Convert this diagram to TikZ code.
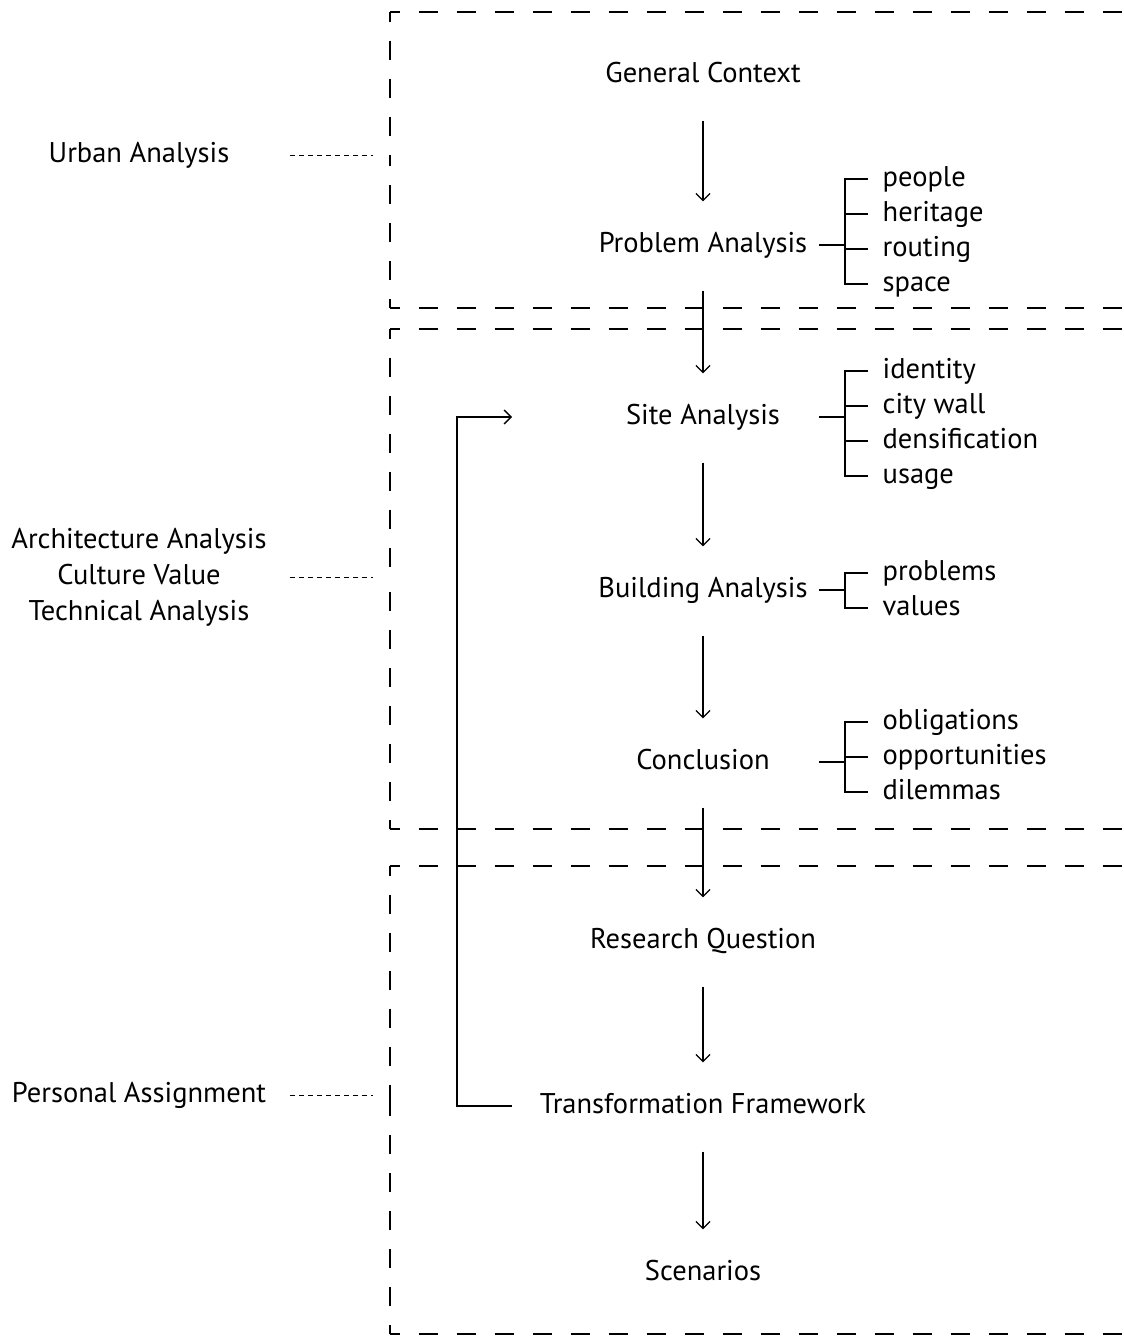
\documentclass[tikz,border=0pt]{standalone}
\usepackage{fontspec}
\setmainfont{PT Sans}
\usetikzlibrary{arrows.meta,calc}

\tikzset{
  zone/.style={dash pattern=on 19pt off 19pt, dash phase=9.5pt},
  tie/.style={line width=1pt, dash pattern=on 5pt off 4pt},
  flow/.style={-{Straight Barb[length=7pt,width=14pt]}},
  next/.style={flow, shorten <=38pt, shorten >=36pt},
  stage/.style={anchor=base, inner sep=0pt, text height=14pt, text depth=0pt},
  item/.style={anchor=base west, inner sep=0pt, text height=14pt, text depth=0pt},
}

\begin{document}
\begin{tikzpicture}[x=1pt, y=-1pt, line width=1.3pt, font=\fontsize{28.5}{36}\selectfont]
\useasboundingbox (0,0) rectangle (1124,1336);
\coordinate (root) at (819,0);
\coordinate (spine) at (845,0);
\coordinate (loop) at (457,0);
\coordinate (back) at (512,0);
\coordinate (tiestart) at (290,0);
\coordinate (tieend) at (373,0);

% dashed zones, open to the right
\draw[zone] (390,12) -- (1140,12) (390,308) -- (1140,308) (390,12) -- (390,160) (390,308) -- (390,160);
\draw[zone] (390,329) -- (1140,329) (390,829) -- (1140,829) (390,329) -- (390,579) (390,829) -- (390,579);
\draw[zone] (390,866) -- (1140,866) (390,1334) -- (1140,1334) (390,866) -- (390,1100) (390,1334) -- (390,1100);

% phases on the left
\node[stage] (ua) at (139,162) {Urban Analysis};
\node[align=center, inner sep=0pt] (aa) at (139,577) {Architecture Analysis\\Culture Value\\Technical Analysis};
\node[stage] (ps) at (139,1102) {Personal Assignment};
\draw[tie] (ua -| tiestart) -- (ua -| tieend);
\draw[tie] (aa -| tiestart) -- (aa -| tieend);
\draw[tie] (ps -| tiestart) -- (ps -| tieend);

% main steps
\node[stage] (gc) at (703,82) {General Context};
\node[stage] (pa) at (703,252) {Problem Analysis};
\node[stage] (sa) at (703,424) {Site Analysis};
\node[stage] (ba) at (703,597) {Building Analysis};
\node[stage] (co) at (703,769) {Conclusion};
\node[stage] (rq) at (703,948) {Research Question};
\node[stage] (tf) at (703,1113) {Transformation Framework};
\node[stage] (sc) at (703,1280) {Scenarios};

\draw[next] (gc.south) -- (pa.north);
\draw[next] (pa.south) -- (sa.north);
\draw[next] (sa.south) -- (ba.north);
\draw[next] (ba.south) -- (co.north);
\draw[next] (co.south) -- (rq.north);
\draw[next] (rq.south) -- (tf.north);
\draw[next] (tf.south) -- (sc.north);
\draw[flow] (tf -| back) -- (tf -| loop) -- (sa -| loop) -- (sa -| back);

% sub items
\node[item] (pa1) at (882,186) {people};
\node[item] (pa2) at (882,221) {heritage};
\node[item] (pa3) at (882,256) {routing};
\node[item] (pa4) at (882,291) {space};
\draw (pa -| root) -- (pa -| spine);
\draw ([xshift=-14pt]pa1.west) -- (pa1 -| spine) -- (pa4 -| spine) -- ([xshift=-14pt]pa4.west);
\draw (pa2 -| spine) -- ([xshift=-14pt]pa2.west) (pa3 -| spine) -- ([xshift=-14pt]pa3.west);

\node[item] (sa1) at (882,378) {identity};
\node[item] (sa2) at (882,413) {city wall};
\node[item] (sa3) at (882,448) {densification};
\node[item] (sa4) at (882,483) {usage};
\draw (sa -| root) -- (sa -| spine);
\draw ([xshift=-14pt]sa1.west) -- (sa1 -| spine) -- (sa4 -| spine) -- ([xshift=-14pt]sa4.west);
\draw (sa2 -| spine) -- ([xshift=-14pt]sa2.west) (sa3 -| spine) -- ([xshift=-14pt]sa3.west);

\node[item] (ba1) at (882,580) {problems};
\node[item] (ba2) at (882,615) {values};
\draw (ba -| root) -- (ba -| spine);
\draw ([xshift=-14pt]ba1.west) -- (ba1 -| spine) -- (ba2 -| spine) -- ([xshift=-14pt]ba2.west);

\node[item] (co1) at (882,729) {obligations};
\node[item] (co2) at (882,764) {opportunities};
\node[item] (co3) at (882,799) {dilemmas};
\draw (co -| root) -- (co -| spine);
\draw ([xshift=-14pt]co1.west) -- (co1 -| spine) -- (co3 -| spine) -- ([xshift=-14pt]co3.west);
\draw (co2 -| spine) -- ([xshift=-14pt]co2.west);
\end{tikzpicture}
\end{document}
